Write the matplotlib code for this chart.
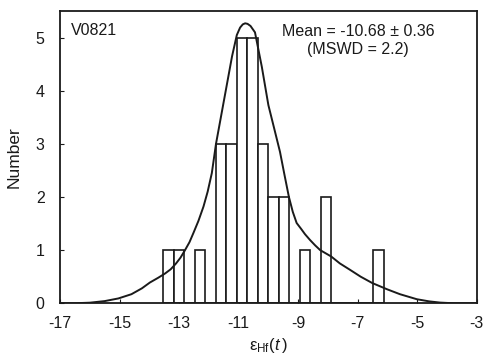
import matplotlib
matplotlib.use("Agg")
import matplotlib.pyplot as plt

plt.rcParams['font.family'] = ['Liberation Sans', 'DejaVu Sans']
plt.rcParams['mathtext.fontset'] = 'custom'
plt.rcParams['mathtext.rm'] = 'Liberation Sans'
plt.rcParams['mathtext.it'] = 'Liberation Sans:italic'

# histogram bins (left edges) and counts
bin_width = 0.352
bin_left = [-13.53, -13.18, -12.83, -12.47, -12.12, -11.77, -11.42, -11.06,
            -10.71, -10.36, -10.01, -9.65, -9.30, -8.95, -8.60, -8.24,
            -7.89, -7.54, -7.19, -6.84, -6.48]
counts = [1, 1, 0, 1, 0, 3, 3, 5, 5, 3, 2, 2, 0, 1, 0, 2, 0, 0, 0, 0, 1]

# probability density curve
curve_x = [-17.0, -16.5, -16.0, -15.5, -15.04, -14.6, -14.25, -13.98, -13.7,
           -13.47, -13.28, -13.1, -12.95, -12.80, -12.65, -12.52, -12.35,
           -12.18, -12.04, -11.90, -11.76, -11.58, -11.4, -11.22, -11.06,
           -10.95, -10.86, -10.78, -10.7, -10.6, -10.45, -10.22, -10.0,
           -9.80, -9.61, -9.46, -9.31, -9.18, -9.05, -8.90, -8.77, -8.60,
           -8.43, -8.26, -7.89, -7.6, -7.26, -6.9, -6.51, -6.0, -5.58, -5.01,
           -4.6, -4.23, -3.8, -3.0]
curve_y = [0.0, 0.0, 0.01, 0.04, 0.09, 0.17, 0.28, 0.39, 0.48, 0.56, 0.64,
           0.75, 0.86, 1.0, 1.15, 1.32, 1.55, 1.82, 2.1, 2.45, 3.0, 3.55,
           4.1, 4.65, 5.05, 5.19, 5.25, 5.27, 5.26, 5.22, 5.1, 4.45, 3.73,
           3.28, 2.85, 2.42, 2.0, 1.72, 1.51, 1.40, 1.30, 1.19, 1.09, 1.0,
           0.88, 0.75, 0.63, 0.5, 0.38, 0.26, 0.17, 0.075, 0.035, 0.012,
           0.0, 0.0]

xticks = [-17, -15, -13, -11, -9, -7, -5, -3]
yticks = [0, 1, 2, 3, 4, 5]

fig = plt.figure(figsize=(4.84, 3.58), dpi=100)
ax = fig.add_axes([0.124, 0.153, 0.861, 0.816])

ax.bar(bin_left, counts, width=bin_width, align='edge', facecolor='white',
       edgecolor='#1a1a1a', linewidth=1.2, zorder=2)
ax.plot(curve_x, curve_y, color='#1a1a1a', linewidth=1.4, zorder=3,
        solid_joinstyle='round')

ax.set_xlim(-17, -3)
ax.set_ylim(0, 5.5)
ax.set_xticks(xticks)
ax.set_xticklabels([str(t) for t in xticks])
ax.set_yticks(yticks)
ax.tick_params(direction='in', length=3, width=0.8, labelsize=11.5,
               colors='#1a1a1a')
ax.tick_params(axis='x', pad=9)
ax.tick_params(axis='y', pad=11)
for s in ax.spines.values():
    s.set_linewidth(1.3)
    s.set_color('#1a1a1a')

ax.set_ylabel('Number', fontsize=12.5, color='#1a1a1a', labelpad=10)
ax.set_xlabel(r'$\mathrm{ε_{Hf}(}\mathit{t}\mathrm{\,)}$', fontsize=12,
              color='#1a1a1a', labelpad=4)

ax.text(0.025, 0.96, 'V0821', transform=ax.transAxes, fontsize=11.5,
        ha='left', va='top', color='#1a1a1a')
ax.text(0.715, 0.955, 'Mean = -10.68 ± 0.36', transform=ax.transAxes,
        fontsize=11.5, ha='center', va='top', color='#1a1a1a')
ax.text(0.715, 0.895, '(MSWD = 2.2)', transform=ax.transAxes,
        fontsize=11.5, ha='center', va='top', color='#1a1a1a')

fig.savefig('out.png', dpi=100)
